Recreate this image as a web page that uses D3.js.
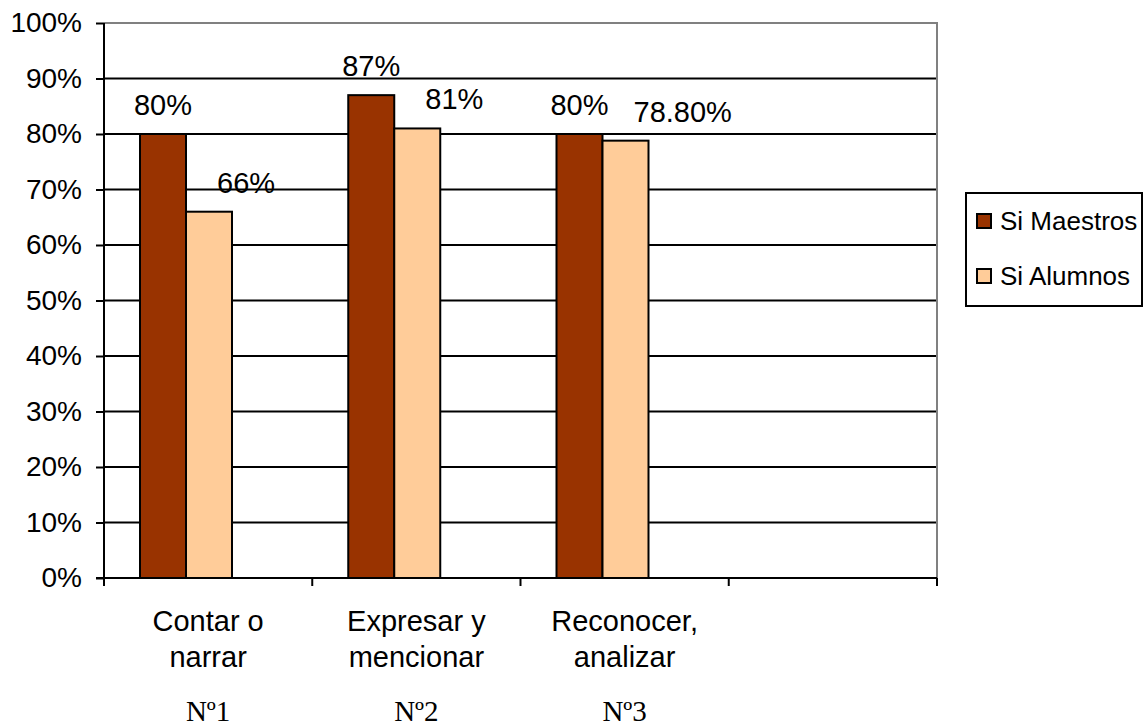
<!DOCTYPE html>
<html>
<head>
<meta charset="utf-8">
<script src="https://cdn.jsdelivr.net/npm/d3@7"></script>
<style>
  body { margin: 0; background: #fff; }
  svg { font-family: "Liberation Sans", Arial, sans-serif; }
</style>
</head>
<body>
<div class="chart"></div>
<script>
var categories = ['Contar o|narrar', 'Expresar y|mencionar', 'Reconocer,|analizar', ''];
var numbers = ['Nº1', 'Nº2', 'Nº3', ''];
var seriesNames = ['Si Maestros', 'Si Alumnos'];
var maestros = [0.80, 0.87, 0.80];
var alumnos = [0.66, 0.81, 0.788];
var valueLabels = [['80%', '87%', '80%'], ['66%', '81%', '78.80%']];
var yTicks = [0, 0.1, 0.2, 0.3, 0.4, 0.5, 0.6, 0.7, 0.8, 0.9, 1];
var colors = ['#993300', '#FFCC99'];

var sans = '"Liberation Sans", Arial, sans-serif';
var serif = '"Liberation Serif", "Times New Roman", serif';

var margin = {top: 23, right: 208, bottom: 148, left: 104};
var width = 1145 - margin.left - margin.right;
var height = 726 - margin.top - margin.bottom;

var svg = d3.select('.chart')
  .append('svg')
	.attr('width', 1145)
	.attr('height', 726)
  .append('g')
	.attr('transform', `translate(${margin.left}, ${margin.top})`);

var x = d3.scaleBand()
	.domain(d3.range(categories.length))
	.range([0, width]);

var inner = d3.scaleBand()
	.domain([0, 1])
	.range([36, 128]);

var y = d3.scaleLinear()
	.domain([0, 1])
	.range([height, 0]);

// gridlines
svg.selectAll('line.grid')
	.data(yTicks.slice(1, -1))
	.enter()
	.append('line')
	.attr('x1', 0).attr('x2', width)
	.attr('y1', d => y(d)).attr('y2', d => y(d))
	.attr('stroke', '#000').attr('stroke-width', 2);

// top and right border
svg.append('path')
	.attr('d', `M0,0H${width}V${height}`)
	.attr('fill', 'none')
	.attr('stroke', '#808080')
	.attr('stroke-width', 2);

// bars
var series = [maestros, alumnos];
series.forEach(function(vals, s) {
	svg.selectAll('rect.s' + s)
		.data(vals)
		.enter()
		.append('rect')
		.attr('class', 's' + s)
		.attr('x', (d, i) => x(i) + inner(s))
		.attr('y', d => y(d))
		.attr('width', inner.bandwidth())
		.attr('height', d => height - y(d))
		.attr('fill', colors[s])
		.attr('stroke', '#000')
		.attr('stroke-width', 2);

	svg.selectAll('text.l' + s)
		.data(vals)
		.enter()
		.append('text')
		.attr('class', 'l' + s)
		.attr('x', (d, i) => x(i) + inner(s) + inner.bandwidth() / 2 + (s ? 8 : 0))
		.attr('y', d => y(d) - 19)
		.attr('text-anchor', s ? 'start' : 'middle')
		.attr('font-size', 29)
		.text((d, i) => valueLabels[s][i]);
});

// y axis
var yAxis = svg.append('g')
	.call(d3.axisLeft(y)
		.tickValues(yTicks)
		.tickFormat(d3.format('.0%'))
		.tickSize(8)
		.tickPadding(14));
yAxis.select('.domain').attr('stroke-width', 2).attr('d', `M0,0V${height}`);
yAxis.selectAll('.tick line').attr('stroke-width', 2);
yAxis.selectAll('.tick text')
	.attr('font-size', 28)
	.style('font-family', sans)
	.attr('fill', '#000');

// x axis
var xAxis = svg.append('g')
	.attr('transform', `translate(0, ${height})`);
xAxis.append('line')
	.attr('x1', -8).attr('x2', width)
	.attr('stroke', '#000').attr('stroke-width', 2);
xAxis.selectAll('line.tick')
	.data(d3.range(categories.length + 1))
	.enter()
	.append('line')
	.attr('x1', d => d * x.step()).attr('x2', d => d * x.step())
	.attr('y1', 0).attr('y2', 8)
	.attr('stroke', '#000').attr('stroke-width', 2);

var catText = xAxis.selectAll('text.cat')
	.data(categories)
	.enter()
	.append('text')
	.attr('class', 'cat')
	.attr('text-anchor', 'middle')
	.attr('font-size', 29)
	.attr('transform', (d, i) => `translate(${x(i) + x.bandwidth() / 2}, 53)`);
catText.selectAll('tspan')
	.data(d => d ? d.split('|') : [])
	.enter()
	.append('tspan')
	.attr('x', 0)
	.attr('dy', (d, i) => i ? 36 : 0)
	.text(d => d);

xAxis.selectAll('text.num')
	.data(numbers)
	.enter()
	.append('text')
	.attr('class', 'num')
	.attr('text-anchor', 'middle')
	.attr('font-size', 29)
	.style('font-family', serif)
	.attr('x', (d, i) => x(i) + x.bandwidth() / 2)
	.attr('y', 143)
	.text(d => d);

// legend
var legend = d3.select('svg').append('g')
	.attr('transform', 'translate(966, 193)');
legend.append('rect')
	.attr('width', 176).attr('height', 113)
	.attr('fill', '#fff')
	.attr('stroke', '#000').attr('stroke-width', 2);
var items = legend.selectAll('g.item')
	.data(seriesNames)
	.enter()
	.append('g')
	.attr('transform', (d, i) => `translate(11, ${28 + i * 55})`);
items.append('rect')
	.attr('x', 0).attr('y', -7)
	.attr('width', 14).attr('height', 14)
	.attr('fill', (d, i) => colors[i])
	.attr('stroke', '#000').attr('stroke-width', 2);
items.append('text')
	.attr('x', 23).attr('dy', '0.35em')
	.attr('font-size', 26)
	.text(d => d);
</script>
</body>
</html>
